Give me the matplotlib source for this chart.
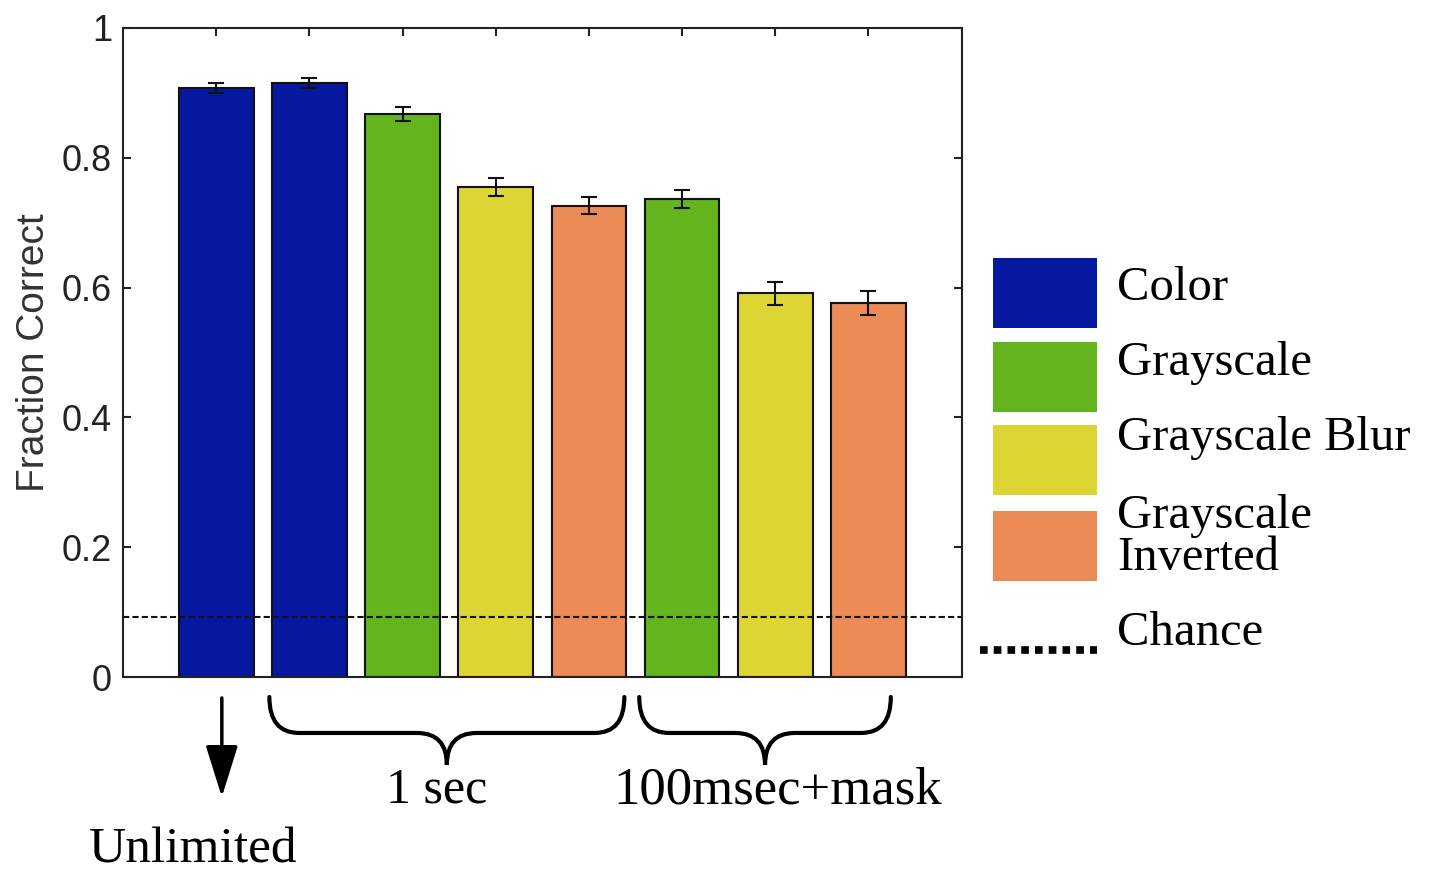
import matplotlib
matplotlib.use('Agg')
import matplotlib.pyplot as plt
import matplotlib as mpl
import matplotlib.transforms as mtransforms
from matplotlib.path import Path
from matplotlib.patches import PathPatch, Rectangle
from matplotlib.lines import Line2D

mpl.rcParams['font.family'] = 'Liberation Sans'

# data
conditions = ['Color', 'Grayscale', 'Grayscale Blur', 'Grayscale\nInverted']
cond_colors = ['#0718a0', '#64b41e', '#dcd534', '#ec8b55']
bar_cond = [0, 0, 1, 2, 3, 1, 2, 3]
fraction = [0.907, 0.915, 0.867, 0.755, 0.726, 0.737, 0.591, 0.576]
err = [0.008, 0.008, 0.011, 0.014, 0.013, 0.014, 0.018, 0.018]
chance = 0.092
chance_label = 'Chance'
yticks = [0, 0.2, 0.4, 0.6, 0.8, 1]
ytick_labels = ['0', '0.2', '0.4', '0.6', '0.8', '1']
groups = ['Unlimited', '1 sec', '100msec+mask']

x = list(range(1, len(fraction) + 1))

fig = plt.figure(figsize=(14.31, 8.73), dpi=100)
ax = fig.add_axes([0.086, 0.2245, 0.586, 0.7435])

ax.bar(x, fraction, width=0.8, color=[cond_colors[c] for c in bar_cond],
       edgecolor='#111111', linewidth=1.5, zorder=2)
ax.errorbar(x, fraction, yerr=err, fmt='none', ecolor='#111111',
            elinewidth=1.5, capsize=6, capthick=1.5, zorder=3)
ax.axhline(chance, color='#111111', lw=1.5, ls=(0, (3, 1.5)), zorder=4)

ax.set_xlim(0, 9)
ax.set_ylim(0, 1)
ax.set_xticks(x)
ax.set_xticklabels([])
ax.set_yticks(yticks)
ax.set_yticklabels(ytick_labels)
ax.tick_params(direction='in', length=6, width=1.5, top=True, right=True,
               labelsize=26, labelcolor='#222222', pad=8, color='#222222')
for s in ax.spines.values():
    s.set_linewidth(1.5)
    s.set_color('#222222')
ax.set_ylabel('Fraction Correct', fontsize=28, color='#333333', labelpad=7)

# legend drawn by hand
serif = 'Liberation Serif'
ptop = [258, 342, 425, 511]
text_base = [300, 375, 450, 570]
H = 873.0
for i, lab in enumerate(conditions):
    fig.add_artist(Rectangle((993 / 1431, 1 - (ptop[i] + 70) / H), 104 / 1431, 70 / H,
                             transform=fig.transFigure, facecolor=cond_colors[i],
                             edgecolor='none'))
    fig.text(1117 / 1431, 1 - text_base[i] / H, lab, fontsize=35, family=serif,
             va='baseline', ha='left', linespacing=0.95)
fig.add_artist(Line2D([980 / 1431, 1097 / 1431], [1 - 650 / H, 1 - 650 / H],
                      transform=fig.transFigure, color='black', lw=5.5,
                      ls=(0, (1, 0.8)), dash_capstyle='butt'))
fig.text(1117 / 1431, 1 - 645 / H, chance_label, fontsize=35, family=serif,
         va='baseline', ha='left')

# braces and arrow under the axis
trans = mtransforms.blended_transform_factory(ax.transData, fig.transFigure)


def brace(x0, x1, ytop=0.2016, ymid=0.1604, ytip=0.1237, r=0.32):
    xc = (x0 + x1) / 2
    verts = [(x0, ytop), (x0, ymid), (x0 + r, ymid),
             (xc - r, ymid), (xc, ymid), (xc, ytip),
             (xc, ymid), (xc + r, ymid),
             (x1 - r, ymid), (x1, ymid), (x1, ytop)]
    codes = [Path.MOVETO, Path.CURVE3, Path.CURVE3,
             Path.LINETO, Path.CURVE3, Path.CURVE3,
             Path.CURVE3, Path.CURVE3,
             Path.LINETO, Path.CURVE3, Path.CURVE3]
    fig.add_artist(PathPatch(Path(verts, codes), transform=trans, fill=False,
                             lw=3, edgecolor='black', capstyle='round'))
    return xc


brace(1.57, 5.38)
brace(5.54, 8.24)

ax.annotate('', xy=(1.06, 0.087), xytext=(1.06, 0.2005), xycoords=trans,
            textcoords=trans, annotation_clip=False,
            arrowprops=dict(arrowstyle='-|>,head_length=0.8,head_width=0.25',
                            lw=2.5, color='black', mutation_scale=40,
                            shrinkA=0, shrinkB=0))

fig.text(0.75, 0.012, groups[0], transform=trans, fontsize=37, family=serif,
         ha='center', va='baseline')
fig.text(3.37, 0.095, groups[1], transform=trans, fontsize=36, family=serif,
         ha='center', va='center')
fig.text(7.03, 0.095, groups[2], transform=trans, fontsize=38, family=serif,
         ha='center', va='center')

fig.savefig('out.png', dpi=100)
